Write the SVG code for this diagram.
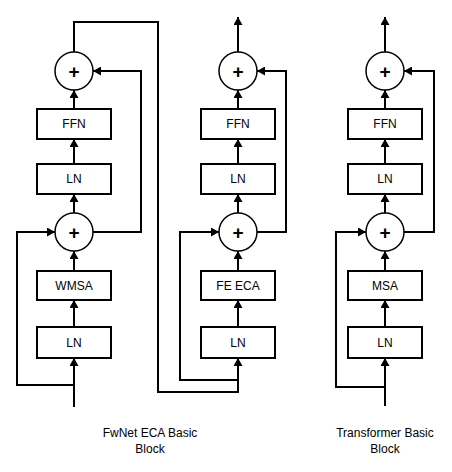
<svg xmlns="http://www.w3.org/2000/svg" width="452" height="472" viewBox="0 0 452 472">
<defs>
<marker id="arr" markerUnits="userSpaceOnUse" markerWidth="9" markerHeight="9" refX="8" refY="4.5" orient="auto">
<path d="M0,0 L8,4.5 L0,9 z" fill="#000"/>
</marker>
<style>
.box{fill:#fff;stroke:#000;stroke-width:2}
.cir{fill:#fff;stroke:#000;stroke-width:1.5}
.lbl{font-family:"Liberation Sans",Arial,sans-serif;font-size:12px;text-anchor:middle;fill:#000}
.plus{font-family:"Liberation Sans",Arial,sans-serif;font-size:19px;font-weight:bold;text-anchor:middle;fill:#000}
.cap{font-family:"Liberation Sans",Arial,sans-serif;font-size:12px;text-anchor:middle;fill:#000}
.ln{fill:none;stroke:#000;stroke-width:2}
.la{fill:none;stroke:#000;stroke-width:2;marker-end:url(#arr)}
</style>
</defs>
<rect width="452" height="472" fill="#fff"/>
<g id="connectors">
<!-- left column -->
<path class="la" d="M74,407 L74,358"/>
<path class="la" d="M74,385 L17,385 L17,232 L55,232"/>
<path class="la" d="M74,327 L74,300"/>
<path class="la" d="M74,271 L74,251"/>
<path class="la" d="M74,213 L74,194"/>
<path class="la" d="M74,164 L74,139"/>
<path class="la" d="M74,109 L74,90"/>
<path class="la" d="M93,232 L141,232 L141,71 L93,71"/>
<path class="la" d="M74,52 L74,22 L158,22 L158,392 L238,392 L238,358"/>
<!-- middle column -->
<path class="la" d="M238,380 L180,380 L180,232 L219,232"/>
<path class="la" d="M238,327 L238,300"/>
<path class="la" d="M238,271 L238,251"/>
<path class="la" d="M238,213 L238,194"/>
<path class="la" d="M238,164 L238,139"/>
<path class="la" d="M238,109 L238,90"/>
<path class="la" d="M257,232 L286,232 L286,71 L257,71"/>
<path class="la" d="M238,52 L238,17"/>
<!-- right column -->
<path class="la" d="M385,406 L385,358"/>
<path class="la" d="M385,387 L336,387 L336,232 L366,232"/>
<path class="la" d="M385,327 L385,300"/>
<path class="la" d="M385,271 L385,251"/>
<path class="la" d="M385,213 L385,194"/>
<path class="la" d="M385,164 L385,139"/>
<path class="la" d="M385,109 L385,90"/>
<path class="la" d="M404,232 L434,232 L434,71 L404,71"/>
<path class="la" d="M385,52 L385,17"/>
</g>
<!-- left column nodes -->
<g id="fw-add2"><circle class="cir" cx="74" cy="71" r="19"/><text class="plus" x="74" y="78">+</text></g>
<g id="fw-ffn"><rect class="box" x="37" y="109" width="74" height="30"/><text class="lbl" x="74" y="128">FFN</text></g>
<g id="fw-ln2"><rect class="box" x="37" y="164" width="74" height="30"/><text class="lbl" x="74" y="183">LN</text></g>
<g id="fw-add1"><circle class="cir" cx="74" cy="232" r="19"/><text class="plus" x="74" y="239">+</text></g>
<g id="fw-wmsa"><rect class="box" x="37" y="271" width="74" height="29"/><text class="lbl" x="74" y="290">WMSA</text></g>
<g id="fw-ln1"><rect class="box" x="37" y="327" width="74" height="31"/><text class="lbl" x="74" y="347">LN</text></g>
<!-- middle column nodes -->
<g id="fe-add2"><circle class="cir" cx="238" cy="71" r="19"/><text class="plus" x="238" y="78">+</text></g>
<g id="fe-ffn"><rect class="box" x="201" y="109" width="74" height="30"/><text class="lbl" x="238" y="128">FFN</text></g>
<g id="fe-ln2"><rect class="box" x="201" y="164" width="74" height="30"/><text class="lbl" x="238" y="183">LN</text></g>
<g id="fe-add1"><circle class="cir" cx="238" cy="232" r="19"/><text class="plus" x="238" y="239">+</text></g>
<g id="fe-eca"><rect class="box" x="201" y="271" width="74" height="29"/><text class="lbl" x="238" y="290">FE ECA</text></g>
<g id="fe-ln1"><rect class="box" x="201" y="327" width="74" height="31"/><text class="lbl" x="238" y="347">LN</text></g>
<!-- right column nodes -->
<g id="tr-add2"><circle class="cir" cx="385" cy="71" r="19"/><text class="plus" x="385" y="78">+</text></g>
<g id="tr-ffn"><rect class="box" x="348" y="109" width="74" height="30"/><text class="lbl" x="385" y="128">FFN</text></g>
<g id="tr-ln2"><rect class="box" x="348" y="164" width="74" height="30"/><text class="lbl" x="385" y="183">LN</text></g>
<g id="tr-add1"><circle class="cir" cx="385" cy="232" r="19"/><text class="plus" x="385" y="239">+</text></g>
<g id="tr-msa"><rect class="box" x="348" y="271" width="74" height="29"/><text class="lbl" x="385" y="290">MSA</text></g>
<g id="tr-ln1"><rect class="box" x="348" y="327" width="74" height="31"/><text class="lbl" x="385" y="347">LN</text></g>
<!-- captions -->
<g id="cap-fw"><text class="cap" x="150" y="437">FwNet ECA Basic</text><text class="cap" x="150" y="453">Block</text></g>
<g id="cap-tr"><text class="cap" x="385" y="437">Transformer Basic</text><text class="cap" x="385" y="453">Block</text></g>
</svg>
